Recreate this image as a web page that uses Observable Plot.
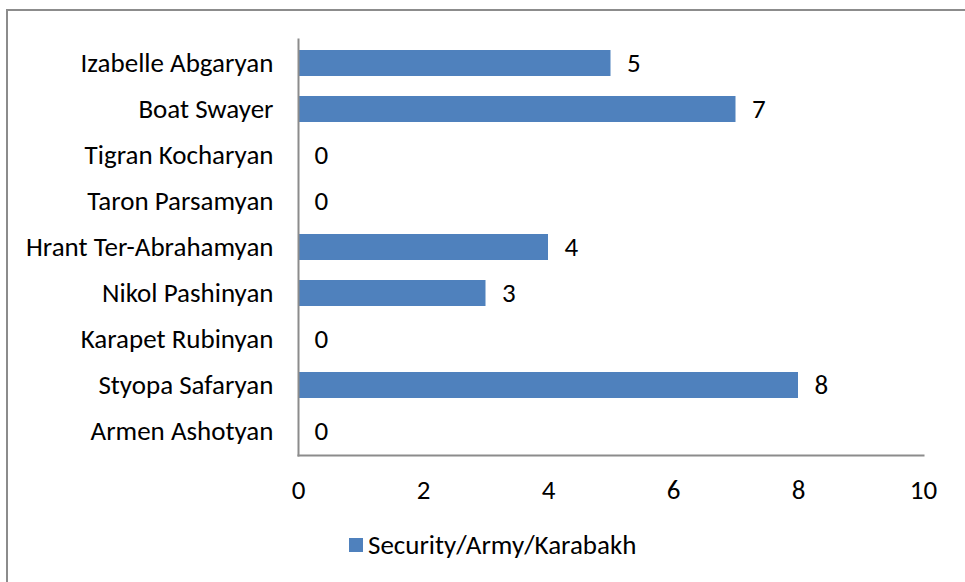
<!DOCTYPE html>
<html>
<head>
<meta charset="utf-8">
<script src="https://cdn.jsdelivr.net/npm/d3@7"></script>
<script src="https://cdn.jsdelivr.net/npm/@observablehq/plot@0.6"></script>
<style>
  html, body { margin: 0; padding: 0; background: #fff; }
  body { width: 965px; height: 582px; overflow: hidden; position: relative;
         font-family: Carlito, "Open Sans", sans-serif; }
  #frame { position: absolute; left: 6px; top: 9px; width: 980px; height: 600px;
           border: 2px solid #8c8c8c; box-sizing: border-box; }
  #chart { position: absolute; left: 0; top: 0; }
  #legend { position: absolute; left: 349px; top: 528px; display: flex; align-items: center;
            font-size: 27px; line-height: 34px; color: #000; }
  #legend .sw { width: 14px; height: 14px; background: #4F81BD; margin-right: 5px; }
</style>
</head>
<body>
<div id="frame"></div>
<div id="chart"></div>
<div id="legend"><span class="sw"></span><span>Security/Army/Karabakh</span></div>
<script>
const names = ["Izabelle Abgaryan", "Boat Swayer", "Tigran Kocharyan", "Taron Parsamyan",
  "Hrant Ter-Abrahamyan", "Nikol Pashinyan", "Karapet Rubinyan", "Styopa Safaryan", "Armen Ashotyan"];
const values = [5, 7, 0, 0, 4, 3, 0, 8, 0];
const xTicks = [0, 2, 4, 6, 8, 10];

const data = names.map((n, i) => ({name: n, value: values[i]}));
const FS = 27;

const chart = Plot.plot({
  width: 965,
  height: 520,
  marginLeft: 298,
  marginRight: 42,
  marginTop: 39,
  marginBottom: 65,
  style: {fontFamily: 'Carlito, "Open Sans", sans-serif', fontSize: FS + "px", color: "#000", background: "transparent"},
  x: {domain: [0, 10], ticks: xTicks, label: null},
  y: {domain: names, label: null, paddingInner: 0.44, paddingOuter: 0.22},
  marks: [
    Plot.barX(data, {x: "value", y: "name", fill: "#4F81BD"}),
    Plot.text(data, {x: "value", y: "name", text: d => String(d.value), textAnchor: "start", dx: 16, fill: "#000", fontSize: FS}),
    Plot.axisX({ticks: xTicks, tickSize: 0, tickPadding: 24, fontSize: FS, label: null}),
    Plot.axisY({tickSize: 0, tickPadding: 25, fontSize: FS, label: null}),
    Plot.frame({anchor: "left", stroke: "#8c8c8c", strokeWidth: 2}),
    Plot.frame({anchor: "bottom", stroke: "#8c8c8c", strokeWidth: 2})
  ]
});
document.getElementById("chart").appendChild(chart);
</script>
</body>
</html>
